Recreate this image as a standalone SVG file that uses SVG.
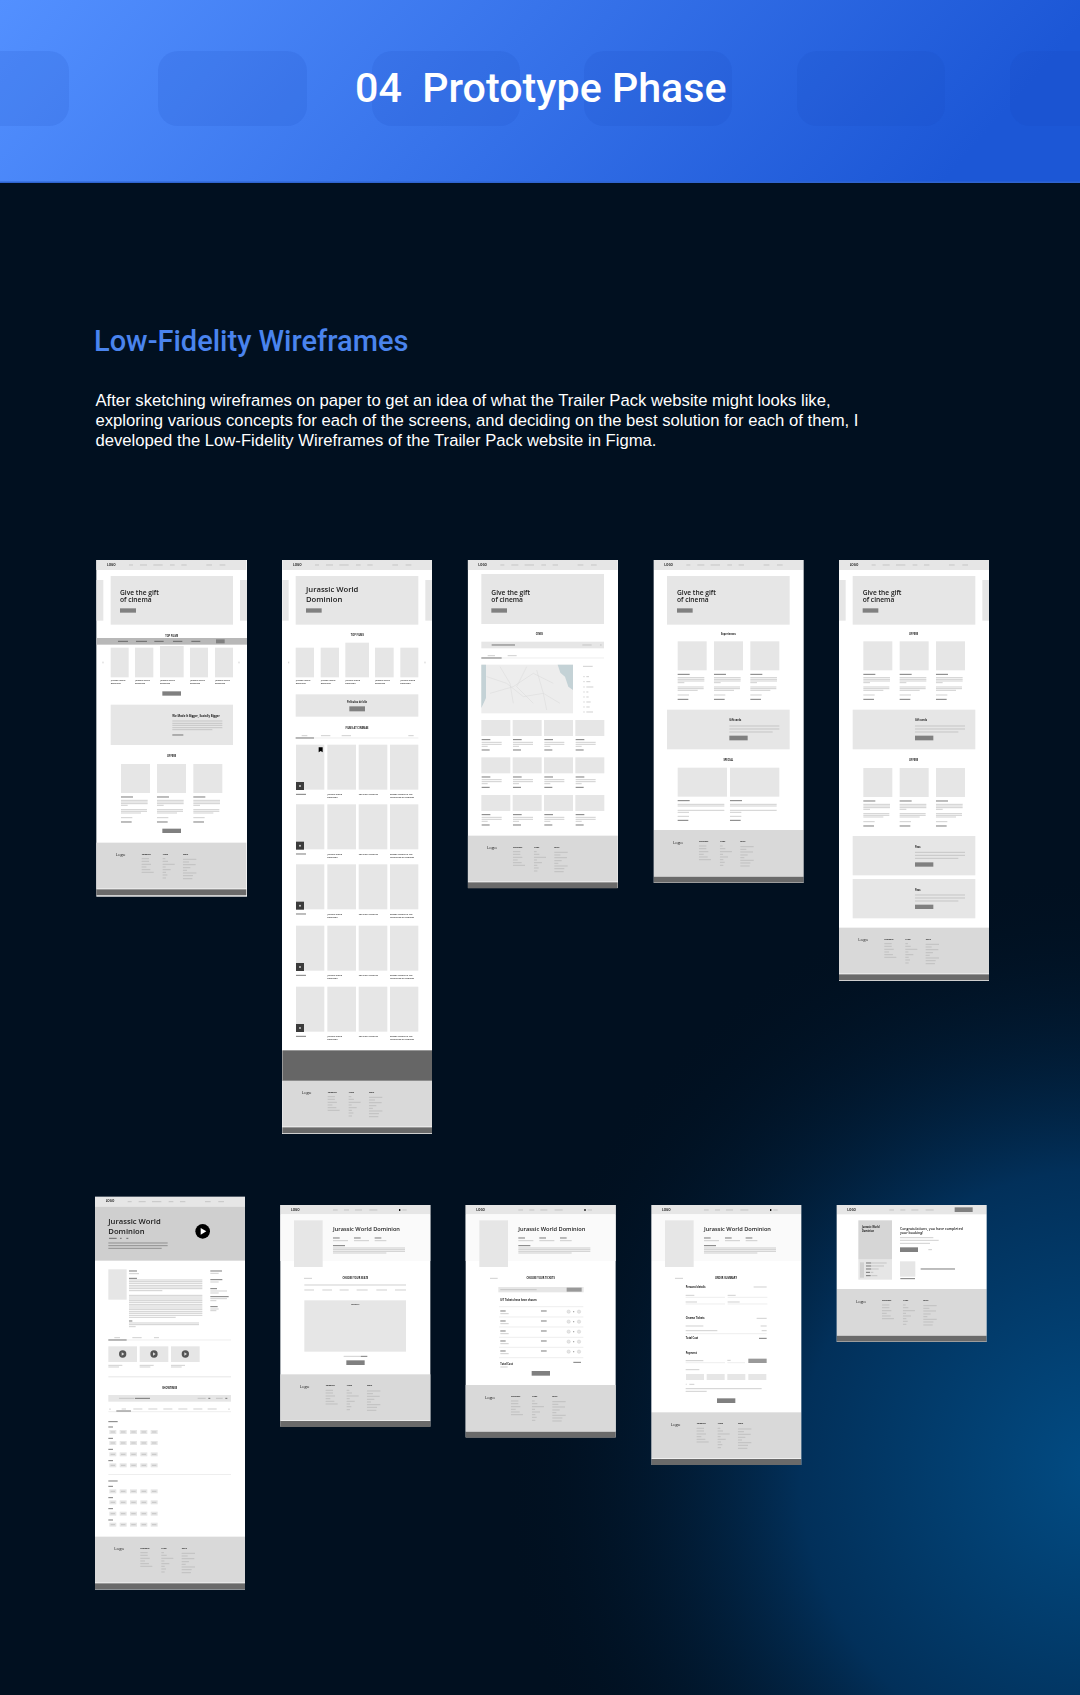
<svg xmlns="http://www.w3.org/2000/svg" width="1080" height="1695" viewBox="0 0 1080 1695">
<style>
.wf{font-family:"Open Sans","Noto Sans",sans-serif;fill:#1a1a1a}
.g{fill:#e6e6e6}.w{fill:#fff}.d{fill:#808080}.m{fill:#999}
.l{stroke:#b0b0b0;stroke-width:1.800;fill:none}.ld{stroke:#4a4a4a;stroke-width:2.200;fill:none}.li{stroke:#e6e6e6;stroke-width:2;fill:none}
.hero{font-size:20px;font-weight:600}.hero2{font-size:23px;font-weight:600}
.sec{font-size:7.500px;font-weight:700;text-anchor:middle}
.c{font-size:6.500px;font-weight:600;fill:#333}
.h{font-size:7.500px;font-weight:700}
.t{font-size:17px;font-weight:600}
</style>
<defs>
<linearGradient id="hdr" x1="0" y1="0" x2="1" y2="0.15"><stop offset="0" stop-color="#5390ff"/><stop offset="1" stop-color="#1c57d6"/></linearGradient>
<radialGradient id="glow" gradientUnits="userSpaceOnUse" cx="1100" cy="1470" r="600"><stop offset="0" stop-color="#024c84"/><stop offset=".5" stop-color="#02305a"/><stop offset="1" stop-color="#011020" stop-opacity="0"/></radialGradient>
<filter id="soft" x="-2%" y="-2%" width="104%" height="104%"><feGaussianBlur stdDeviation="0.35"/></filter>
<g id="nav"><rect class="g" width="450" height="30"/><text class="wf" x="32" y="17" font-size="9" font-weight="700">LOGO</text><path class="l" d="M98 15h12M131 15h21M171 15h28M221 15h14M255 15h16M330 15h17M370 15h17"/></g>
<g id="nav2"><rect class="g" width="450" height="28"/><text class="wf" x="32" y="17" font-size="9" font-weight="700">LOGO</text><path class="l" d="M158 15h14M191 15h15M224 15h21M267 15h24M366 15h13"/><rect x="356" y="12" width="4" height="6" fill="#111"/></g>
<g id="ft"><rect width="450" height="138" fill="#d9d9d9"/><rect y="138" width="450" height="2" fill="#eee"/><rect y="140" width="450" height="18" fill="#6b6b6b"/>
<text class="wf" x="58" y="41" font-size="13" fill="#444">Logo</text>
<text class="wf" x="136" y="36" font-size="6" font-weight="700">Company</text><text class="wf" x="199" y="36" font-size="6" font-weight="700">Films</text><text class="wf" x="260" y="36" font-size="6" font-weight="700">More</text>
<path class="l" d="M136 48h22M136 56h22M136 65h28M136 73h14M136 81h26M136 89h36M199 48h8M199 56h16M199 65h36M199 73h9M199 81h24M199 89h10M199 97h14M199 106h10M260 50h40M260 58h18M260 66h38M260 75h22M260 83h12M260 91h40M260 99h30M260 108h28"/></g>
<g id="offer"><rect class="g" width="87" height="87"/><path class="ld" d="M0 99h36M0 174h32"/><path class="l" d="M0 109h80M0 114h80M0 119h80M0 124h20M0 137h78M0 142h78M0 147h60M0 161h34"/></g>
<g id="cin"><rect class="g" width="87" height="48"/><path class="ld" d="M1 59h26M1 90h24"/><path class="l" d="M1 67h60M1 73h60M1 79h18"/></g>
<g id="cap"><text class="wf c">Jurassic World</text><text class="wf c" y="9">Dominion</text></g>
<g id="filmrow"><rect class="g" x="0" width="85" height="135"/><rect class="g" x="94" width="86" height="135"/><rect class="g" x="188" width="86" height="135"/><rect class="g" x="282" width="85" height="135"/>
<rect x="0" y="112" width="24" height="24" fill="#3a3a3a"/><circle cx="12" cy="124" r="3" fill="#ccc"/>
<path class="ld" d="M0 149h30"/><use href="#cap" x="94" y="151"/><text class="wf c" x="188" y="151">Top Gun: Maverick</text><text class="wf c" x="282" y="151">Doctor Strange In The</text><text class="wf c" x="282" y="160">Multiverse Of Madness</text></g>
<g id="times"><g class="g"><rect x="3" width="21" height="12"/><rect x="34" width="21" height="12"/><rect x="65" width="21" height="12"/><rect x="96" width="21" height="12"/><rect x="127" width="21" height="12"/></g><path class="l" d="M7 6h13M38 6h13M69 6h13M100 6h13M131 6h13"/></g>
<g id="sect"><path class="ld" d="M0 0h28M0 16h14M0 50h14M0 83h14M0 117h14"/><use href="#times" y="25"/><use href="#times" y="58"/><use href="#times" y="92"/><use href="#times" y="125"/></g>
<g id="chead"><rect x="0" y="28" width="450" height="140" fill="#fafafa"/><rect class="g" x="41" y="46" width="86" height="140"/><text class="wf t" x="158" y="78">Jurassic World Dominion</text><path class="ld" d="M158 99h20M221 99h20M283 99h20M158 122h36"/><path class="l" d="M158 107h45M221 107h45M283 107h35M158 129h216M158 134h216M158 139h216M158 144h160"/></g>
<g id="tick"><path class="ld" d="M0 0h16M122 0h17"/><path class="l" d="M0 8h25"/><circle cx="205" cy="2" r="5" fill="#e6e6e6" stroke="#bbb"/><circle cx="220" cy="2" r="2" fill="#999"/><circle cx="236" cy="2" r="5" fill="#e6e6e6" stroke="#bbb"/></g>
</defs>
<rect id="bg" width="1080" height="1695" fill="#011020"/><rect width="1080" height="1695" fill="url(#glow)"/>
<g id="header">
<rect width="1080" height="183" fill="url(#hdr)"/><rect y="181.500" width="1080" height="1.500" fill="#2f64cf"/>
<g fill="#1746bd" fill-opacity=".13"><rect x="-81" y="51" width="150" height="75" rx="20"/><rect x="158" y="51" width="149" height="75" rx="20"/><rect x="372" y="51" width="148" height="75" rx="20"/><rect x="584" y="51" width="148" height="75" rx="20"/><rect x="797" y="51" width="148" height="75" rx="20"/><rect x="1010" y="51" width="150" height="75" rx="20"/></g>
<text x="355" y="102" font-family="Roboto,sans-serif" font-weight="500" font-size="41.200" fill="#fff" xml:space="preserve">04  Prototype Phase</text>
</g>
<g id="intro">
<text x="94" y="351" font-family="Roboto,sans-serif" font-weight="500" font-size="29" fill="#4a84ee">Low-Fidelity Wireframes</text>
<g font-family="Liberation Sans,Arial,sans-serif" font-size="16.670" fill="#fff"><text x="95.500" y="406">After sketching wireframes on paper to get an idea of what the Trailer Pack website might looks like,</text><text x="95.500" y="426">exploring various concepts for each of the screens, and deciding on the best solution for each of them, I</text><text x="95.500" y="446">developed the Low-Fidelity Wireframes of the Trailer Pack website in Figma.</text></g>
</g>

<g id="wireframes" filter="url(#soft)">
<g id="screen-1" transform="translate(85,550) scale(.33333)">
<rect class="w" x="34" y="30" width="452" height="1010"/><use href="#nav" x="34" y="30"/>
<rect class="g" x="77" y="78" width="367" height="146"/><rect class="g" x="34" y="90" width="21" height="122"/><rect class="g" x="465" y="90" width="21" height="122"/>
<text class="wf hero" x="105" y="134">Give the gift</text><text class="wf hero" x="105" y="157">of cinema</text><rect class="d" x="105" y="175" width="48" height="13"/>
<text class="wf sec" x="260" y="260">TOP FILMS</text>
<rect x="34" y="264" width="452" height="20" fill="#b8b8b8"/><path class="ld" d="M99 274h30M153 274h33M208 274h28M264 274h28M319 274h27"/><rect class="d" x="393" y="268" width="26" height="12"/>
<g class="g"><rect x="77" y="293" width="54" height="89"/><rect x="150" y="293" width="55" height="89"/><rect x="225" y="288" width="71" height="94"/><rect x="315" y="293" width="54" height="89"/><rect x="390" y="293" width="54" height="89"/></g>
<use href="#cap" x="77" y="394"/><use href="#cap" x="150" y="394"/><use href="#cap" x="225" y="394"/><use href="#cap" x="315" y="394"/><use href="#cap" x="390" y="394"/>
<path class="l" d="M54 335v5M462 335v5"/><rect class="d" x="232" y="424" width="56" height="13"/>
<rect class="g" x="77" y="464" width="367" height="121"/><text class="wf" x="262" y="500" font-size="8.500" font-weight="700">We Made It Bigger, Socially Bigger</text><path class="l" d="M262 513h150M262 520h150M262 526h150M262 533h150M262 539h120"/><path class="ld" d="M262 555h33"/>
<text class="wf sec" x="260" y="622">OFFERS</text><use href="#offer" x="108" y="642"/><use href="#offer" x="216" y="642"/><use href="#offer" x="325" y="642"/><rect class="d" x="232" y="836" width="56" height="13"/>
<use href="#ft" x="34" y="878"/>
</g>

<g id="screen-2" transform="translate(85,550) scale(.33333)">
<rect class="w" x="592" y="30" width="450" height="1720"/><use href="#nav" x="592" y="30"/>
<rect class="g" x="632" y="78" width="368" height="146"/><rect class="g" x="592" y="90" width="19" height="122"/><rect class="g" x="1021" y="90" width="21" height="122"/>
<text class="wf hero2" x="663" y="126">Jurassic World</text><text class="wf hero2" x="663" y="155">Dominion</text><rect class="d" x="663" y="175" width="47" height="13"/>
<text class="wf sec" x="817" y="259">TOP FILMS</text>
<g class="g"><rect x="632" y="293" width="55" height="89"/><rect x="707" y="293" width="55" height="89"/><rect x="781" y="278" width="71" height="104"/><rect x="870" y="293" width="56" height="89"/><rect x="946" y="293" width="54" height="89"/></g>
<use href="#cap" x="632" y="394"/><use href="#cap" x="707" y="394"/><use href="#cap" x="781" y="394"/><use href="#cap" x="870" y="394"/><use href="#cap" x="946" y="394"/>
<path class="l" d="M611 335v5M1020 335v5"/>
<rect class="g" x="632" y="433" width="368" height="67"/><text class="wf sec" x="816" y="459">Películas del día</text><rect class="d" x="793" y="469" width="47" height="15"/>
<text class="wf sec" x="816" y="537">FILMS AT CINEMAS</text><path class="li" d="M632 564h368"/><path class="ld" d="M632 564h55"/><path class="l" d="M650 557h17M708 557h28M770 557h28M970 557h16"/>
<use href="#filmrow" x="633" y="584"/><use href="#filmrow" x="633" y="763"/><use href="#filmrow" x="633" y="943"/><use href="#filmrow" x="633" y="1127"/><use href="#filmrow" x="633" y="1310"/>
<path d="M701 592h12v15l-6-4-6 4z" fill="#000"/>
<rect x="592" y="1501" width="450" height="92" fill="#666"/><use href="#ft" x="592" y="1592"/>
</g>

<g id="screen-3" transform="translate(460,550) scale(.33333)">
<rect class="w" x="23" y="30" width="451" height="984"/><use href="#nav" x="23" y="30"/>
<rect class="g" x="64" y="72" width="368" height="150"/><text class="wf hero" x="94" y="134">Give the gift</text><text class="wf hero" x="94" y="157">of cinema</text><rect class="d" x="94" y="175" width="47" height="13"/>
<text class="wf sec" x="238" y="256">CINES</text>
<rect class="g" x="64" y="275" width="368" height="20"/><path class="ld" d="M95 285h70"/><path class="l" d="M367 285h28M420 285h5"/>
<path class="li" d="M64 324h368"/><path class="ld" d="M64 324h61"/><path class="l" d="M83 317h22M143 317h27"/>
<rect x="64" y="344" width="275" height="146" fill="#ededed"/><path d="M64 344h14v100l-14 30zM293 344h46v76l-14-10-10-30-14-12z" fill="#c4d2d6"/>
<path d="M80 380l60 20 50 40 60-10 50 30M120 350l30 50 10 60M200 350l-30 60 50 50M90 430l70-20 60-40 60 30M230 360l20 70 10 50" fill="none" stroke="#d8d8d8" stroke-width="1.500"/>
<path class="l" d="M369 349h29M379 380h8M379 395h12M379 411h21M379 426h6M379 441h7M379 456h13M379 471h10M379 486h20M370 380h4M370 395h4M370 411h4M370 426h4M370 441h4M370 456h4M370 471h4M370 486h4"/>
<use href="#cin" x="64" y="510"/><use href="#cin" x="158" y="510"/><use href="#cin" x="252" y="510"/><use href="#cin" x="346" y="510"/>
<use href="#cin" x="64" y="622"/><use href="#cin" x="158" y="622"/><use href="#cin" x="252" y="622"/><use href="#cin" x="346" y="622"/>
<use href="#cin" x="64" y="735"/><use href="#cin" x="158" y="735"/><use href="#cin" x="252" y="735"/><use href="#cin" x="346" y="735"/>
<use href="#ft" x="23" y="857"/>
</g>

<g id="screen-4" transform="translate(460,550) scale(.33333)">
<rect class="w" x="581" y="30" width="450" height="967"/><use href="#nav" x="581" y="30"/>
<rect class="g" x="621" y="78" width="368" height="146"/><text class="wf hero" x="651" y="134">Give the gift</text><text class="wf hero" x="651" y="157">of cinema</text><rect class="d" x="651" y="175" width="47" height="13"/>
<text class="wf sec" x="805" y="256">Experiences</text>
<use href="#offer" x="653" y="274"/><use href="#offer" x="762" y="274"/><use href="#offer" x="871" y="274"/>
<rect class="g" x="621" y="479" width="368" height="119"/><text class="wf h" x="808" y="514">Gift cards</text><path class="l" d="M808 528h150M808 537h150M808 546h130"/><rect class="d" x="808" y="557" width="55" height="14"/>
<text class="wf sec" x="805" y="634">SPECIAL</text>
<rect class="g" x="653" y="653" width="148" height="87"/><rect class="g" x="810" y="653" width="148" height="87"/>
<path class="ld" d="M653 752h36M810 752h36M653 811h32M810 811h32"/><path class="l" d="M653 763h140M810 763h140M653 768h140M810 768h140M653 781h140M810 781h140M653 787h34M810 787h34M653 799h34M810 799h34"/>
<use href="#ft" x="581" y="840"/>
</g>

<g id="screen-5" transform="translate(820,550) scale(.33333)">
<rect class="w" x="57" y="30" width="450" height="1261"/><use href="#nav" x="57" y="30"/>
<rect class="g" x="98" y="78" width="368" height="146"/><rect class="g" x="57" y="90" width="20" height="122"/><rect class="g" x="487" y="90" width="20" height="122"/>
<text class="wf hero" x="128" y="134">Give the gift</text><text class="wf hero" x="128" y="157">of cinema</text><rect class="d" x="128" y="175" width="47" height="13"/>
<text class="wf sec" x="281" y="256">OFFERS</text>
<use href="#offer" x="130" y="274"/><use href="#offer" x="239" y="274"/><use href="#offer" x="348" y="274"/>
<rect class="g" x="98" y="479" width="368" height="119"/><text class="wf h" x="285" y="514">Gift cards</text><path class="l" d="M285 528h150M285 537h150M285 546h130"/><rect class="d" x="285" y="557" width="55" height="14"/>
<text class="wf sec" x="281" y="634">OFFERS</text>
<use href="#offer" x="130" y="654"/><use href="#offer" x="239" y="654"/><use href="#offer" x="348" y="654"/>
<rect class="g" x="98" y="858" width="368" height="118"/><text class="wf h" x="285" y="894">Pass</text><path class="l" d="M285 907h150M285 916h150M285 925h130"/><rect class="d" x="285" y="937" width="55" height="13"/>
<rect class="g" x="98" y="987" width="368" height="118"/><text class="wf h" x="285" y="1022">Pass</text><path class="l" d="M285 1035h150M285 1044h150M285 1053h130"/><rect class="d" x="285" y="1064" width="55" height="13"/>
<use href="#ft" x="57" y="1133"/>
</g>

<g id="screen-6" transform="translate(85,1190) scale(.33333)">
<rect class="w" x="30" y="20" width="450" height="1178"/><use href="#nav" x="30" y="20"/>
<rect x="30" y="50" width="450" height="162" fill="#cfcfcf"/>
<text class="wf hero2" x="70" y="102">Jurassic World</text><text class="wf hero2" x="70" y="131">Dominion</text><path class="ld" d="M72 145h23M105 145h5M124 145h6"/><path stroke="#666" stroke-width="1.800" fill="none" d="M70 159h178M70 167h178M70 175h160"/>
<circle cx="353" cy="124" r="22" fill="#000"/><path d="M347 114l17 10-17 10z" fill="#fff"/>
<rect class="g" x="70" y="238" width="55" height="91"/>
<path class="ld" d="M132 243h24M132 265h24M132 393h10M376 243h35M376 269h36M376 296h20M376 320h55M376 350h22"/>
<path class="l" d="M132 251h30M132 270h220M132 275h220M132 280h220M132 286h220M132 291h220M132 296h220M132 302h100M132 316h220M132 321h220M132 327h220M132 332h220M132 337h220M132 343h220M132 348h220M132 354h220M132 359h220M132 365h220M132 370h220M132 376h220M132 382h140M132 399h210M132 404h210M132 410h20M376 250h25M376 276h25M376 303h50M376 309h25M376 326h50M376 332h18M376 357h25M376 362h18"/>
<path class="li" d="M70 450h368"/><path class="ld" d="M70 450h55"/><path class="l" d="M88 443h17M142 443h28M207 443h15"/>
<rect class="g" x="70" y="469" width="86" height="47"/><rect class="g" x="164" y="469" width="86" height="47"/><rect class="g" x="258" y="469" width="86" height="47"/>
<g fill="#555"><circle cx="113" cy="492" r="11"/><circle cx="207" cy="492" r="11"/><circle cx="301" cy="492" r="11"/></g><g fill="#ddd"><path d="M110 487l8 5-8 5z"/><path d="M204 487l8 5-8 5z"/><path d="M298 487l8 5-8 5z"/></g>
<path class="l" d="M70 526h42M70 531h32M164 526h42M164 531h32M258 526h42M258 531h32"/>
<rect class="g" x="70" y="559" width="368" height="3"/><text class="wf sec" x="254" y="596">SHOWTIMES</text>
<rect class="g" x="70" y="615" width="368" height="20"/><path class="l" d="M102 625h46M338 625h24M393 625h20"/><path class="ld" d="M150 625h45M370 625h6M421 625h6"/>
<path class="li" d="M70 665h368"/><path class="ld" d="M94 663h44"/><path class="l" d="M110 657h13M145 657h27M190 657h27M235 657h27M280 657h27M325 657h27M368 657h27M75 655v5M432 655v5"/>
<use href="#sect" x="70" y="695"/><rect class="g" x="70" y="852" width="368" height="2"/><use href="#sect" x="70" y="873"/>
<use href="#ft" x="30" y="1040"/>
</g>

<g id="screen-7" transform="translate(270,1195) scale(.33333)">
<rect class="w" x="31" y="30" width="450" height="665"/><use href="#nav2" x="31" y="30"/><use href="#chead" x="31" y="30"/>
<path class="l" d="M102 250h24M103 270h305M103 285h29M157 285h29M209 285h27M260 285h33M319 285h32M375 285h33M221 484h50"/><path class="ld" d="M272 484h20"/>
<text class="wf sec" x="256" y="253">CHOOSE YOUR SEATS</text>
<rect class="g" x="103" y="316" width="305" height="154"/><text class="wf" x="256" y="329" font-size="6" font-weight="700" text-anchor="middle">Screen 7</text><rect class="d" x="229" y="496" width="55" height="14"/>
<use href="#ft" x="31" y="538"/>
</g>

<g id="screen-8" transform="translate(270,1195) scale(.33333)">
<rect class="w" x="587" y="30" width="450" height="697"/><use href="#nav2" x="587" y="30"/><use href="#chead" x="587" y="30"/>
<path class="l" d="M660 250h23"/><text class="wf sec" x="812" y="253">CHOOSE YOUR TICKETS</text>
<rect class="g" x="685" y="276" width="256" height="16"/><path class="l" d="M691 284h109"/><rect class="m" x="890" y="278" width="45" height="12"/>
<text class="wf h" x="691" y="317">0/1 Tickets have been chosen</text>
<path class="li" d="M687 335h253M687 366h253M687 396h253M687 427h253M687 457h253M687 488h253"/>
<use href="#tick" x="691" y="348"/><use href="#tick" x="691" y="378"/><use href="#tick" x="691" y="408"/><use href="#tick" x="691" y="438"/><use href="#tick" x="691" y="468"/>
<text class="wf h" x="691" y="509">Total Cost</text><path class="l" d="M691 516h22"/><path class="ld" d="M910 502h23"/><rect class="d" x="785" y="528" width="55" height="14"/>
<use href="#ft" x="587" y="570"/>
</g>

<g id="screen-9" transform="translate(640,1195) scale(.33333)">
<rect class="w" x="34" y="30" width="450" height="778"/><use href="#nav2" x="34" y="30"/><use href="#chead" x="34" y="30"/>
<path class="l" d="M105 250h24"/><text class="wf sec" x="258" y="253">ORDER SUMMARY</text>
<text class="wf h" x="137" y="279">Personal details</text><path class="l" d="M341 276h39M137 301h26M263 301h24M137 321h34M263 321h36"/><path class="li" d="M137 307h118M263 307h119M137 327h118M263 327h119"/>
<text class="wf h" x="137" y="372">Cinema Tickets</text><path class="l" d="M350 370h30M137 393h53M362 393h18M137 407h95M365 407h15"/><path class="li" d="M137 416h243"/>
<text class="wf h" x="137" y="433">Total Cost</text><path class="ld" d="M357 430h23"/>
<text class="wf h" x="137" y="476">Payment</text><path class="l" d="M137 497h53M262 496h10M137 524h41M148 568h15M137 581h228M137 589h63"/><path class="li" d="M137 503h118M262 503h53"/><rect class="m" x="325" y="491" width="55" height="13"/>
<g class="g"><rect x="138" y="537" width="54" height="18"/><rect x="200" y="537" width="54" height="18"/><rect x="262" y="537" width="54" height="18"/><rect x="325" y="537" width="54" height="18"/><rect x="137" y="566" width="4" height="4"/></g>
<rect class="d" x="231" y="610" width="55" height="14"/>
<use href="#ft" x="34" y="652"/>
</g>

<g id="screen-10" transform="translate(640,1195) scale(.33333)">
<rect class="w" x="590" y="30" width="450" height="409"/><use href="#nav2" x="590" y="30"/><rect class="d" x="944" y="37" width="54" height="14"/>
<rect x="655" y="76" width="101" height="118" fill="#d6d6d6"/><rect class="g" x="655" y="194" width="101" height="60"/><rect x="660" y="202" width="12" height="46" fill="#d0d0d0"/>
<text class="wf h" x="666" y="100">Jurassic World</text><text class="wf h" x="666" y="111">Dominion</text>
<path class="ld" d="M678 204h16M678 213h16M678 222h16M678 232h12M678 242h14"/><path class="l" d="M696 204h44M696 213h36M696 222h20M692 232h8M694 242h18"/>
<text class="wf" x="780" y="104" font-size="10.500" font-weight="600">Congratulations, you have completed</text><text class="wf" x="780" y="117" font-size="10.500" font-weight="600">your booking!</text>
<path class="l" d="M780 128h100M780 136h116M780 145h90M865 164h11"/><rect class="d" x="780" y="157" width="54" height="14"/>
<rect class="g" x="780" y="199" width="46" height="46"/><path class="ld" d="M781 251h44M842 222h103"/>
<use href="#ft" x="590" y="282"/>
</g>
</g>
</svg>
